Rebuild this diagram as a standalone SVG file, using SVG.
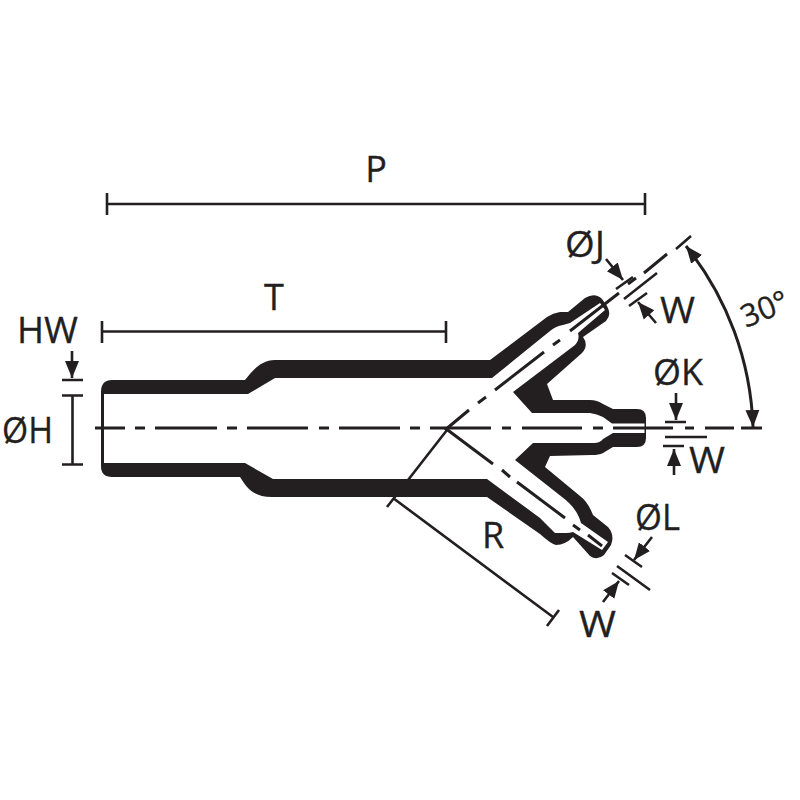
<svg xmlns="http://www.w3.org/2000/svg" width="800" height="800" viewBox="0 0 800 800">
<style>
.t{font-family:"Open Sans","Noto Sans",sans-serif;font-size:36px;fill:#231f20;stroke:#231f20;stroke-width:.3}
.l{stroke:#231f20;stroke-width:2.6;fill:none;stroke-linecap:butt}
.d{stroke:#231f20;stroke-width:3;fill:none}
.a{marker-end:url(#arr)}
</style>
<defs>
<marker id="arr" markerUnits="userSpaceOnUse" markerWidth="18" markerHeight="16" viewBox="0 0 18 16" refX="17" refY="8" orient="auto-start-reverse">
<path d="M0 1 L17 8 L0 15 Z" fill="#231f20"/>
</marker>
</defs>
<rect width="800" height="800" fill="#fff"/>
<g id="body">
<path fill="#231f20" d="M101 392 Q101 380 112 380 L245 380 C252 372 260 360 275 360 L490 360 L547 317 Q553 313 560 312 L568 312 L585 298 Q595 292 602 299 L607 306 Q612 315 606 321 L583 337 Q589 345 582 353 L547 384 L553 400 L590 400 Q597 400 603 404 L613 409 L637 409 Q646 409 646 418 L646 438 Q646 447 637 447 L613 447 L603 453 Q599 455 592 455 L550 456 L545 467 L580 496 Q588 502 593 515 L608 527 Q615 535 611 545 L604 555 Q597 561 590 556 L573 537 Q565 545 556 545 Q551 544 540 534 L487 497 L272 497 C255 497 248 490 240 477 L112 477 Q101 477 101 466 Z"/>
<path fill="#fff" d="M104 394 L248 394 L275 378 L492 378 L550 331 Q556 326 563 325 L570 323 L600 303 L605 310 L578 333 Q580 340 575 345 L513 392 L532 413 L590 413 Q597 414 603 417 L612 423.500 L644.500 423.500 L644.500 433 L613 433 L603 439 Q600 443 594 443 L533 443 L515 460 L562 497 Q577 508 581 523 L608 542 L602 550 L573 532 Q570 533 566 533 L555 533 L540 518 L487 479 L273 479 L245 463 L104 463 Z"/>
</g>
<g id="centerlines">
<path class="d" d="M95 428H125M135 428H145M155 428H217M227 428H237M247 428H308M319 428H329M339 428H400M410 428H420M430 428H491M502 428H511M522 428H582M593 428H603M613 428H673M685 428H694M705 428H734M741 428H762"/>
<path class="d" d="M445 430L469 410M478 403L486 397M495 390L544 352M553 345L560 340M570 331L619 293M628 284L636 278M644 273L667 254"/>
<path class="d" d="M445 428L493 464M502 470L510 477M517 482L565 518M573 525L580 530M588 535L602 546"/>
</g>
<g id="connectors">
<path class="l" d="M107 204H645M107 193V215M645 193V215"/>
<path class="l" d="M102 331.500H446M102 321V343M446 321V343"/>
<path class="l a" d="M72 351V378"/>
<path class="l" d="M62 380H83M62 395.500H83M62 464.500H83M72.500 395.500V464.500"/>
<path class="l" d="M447 430L387 507M393 498L553 617M547 626L559 610"/>
<path class="l" d="M616 289L633 277M624 299L657 273M629 306L647 293M676 249L691 236"/>
<path class="l a" d="M606 259L623 280"/>
<path class="l a" d="M656 323L638 302"/>
<path class="l" d="M665 422H686M665 437H707M663 446H684"/>
<path class="l a" d="M676 393V420"/>
<path class="l a" d="M674 475V449"/>
<path class="l" d="M625 555L642 567M617 566L650 590M612 573L629 585"/>
<path class="l a" d="M652 537L634 560"/>
<path class="l a" d="M603 602L619 581"/>
<path class="d" d="M686 246A306 306 0 0 1 753 427" style="marker-start:url(#arr);marker-end:url(#arr)"/>
</g>
<g id="labels">
<text class="t" x="376" y="182" text-anchor="middle">P</text>
<text class="t" x="274" y="310" text-anchor="middle">T</text>
<text class="t" x="17" y="343" textLength="61" lengthAdjust="spacingAndGlyphs">HW</text>
<text class="t" x="2" y="443" textLength="51" lengthAdjust="spacingAndGlyphs">ØH</text>
<text class="t" x="565" y="257" textLength="40" lengthAdjust="spacingAndGlyphs">ØJ</text>
<text class="t" x="660" y="323" textLength="35" lengthAdjust="spacingAndGlyphs">W</text>
<text class="t" x="653" y="385" textLength="50" lengthAdjust="spacingAndGlyphs">ØK</text>
<text class="t" x="689" y="473" textLength="36" lengthAdjust="spacingAndGlyphs">W</text>
<text class="t" x="635" y="530" textLength="45" lengthAdjust="spacingAndGlyphs">ØL</text>
<text class="t" x="493" y="548" text-anchor="middle">R</text>
<text class="t" x="579" y="637" textLength="37" lengthAdjust="spacingAndGlyphs">W</text>
<text class="t" transform="translate(746 328) rotate(-22)" style="font-size:31px">30°</text>
</g>
</svg>
